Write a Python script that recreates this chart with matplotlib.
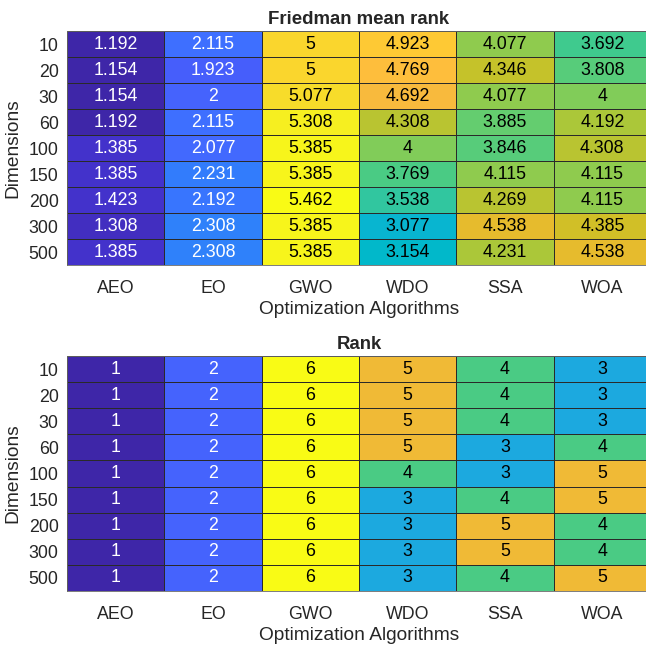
import numpy as np
import matplotlib
matplotlib.use("Agg")
import matplotlib.pyplot as plt
from matplotlib.colors import ListedColormap

plt.rcParams['font.family'] = ['Liberation Sans', 'DejaVu Sans']

algorithms = ["AEO", "EO", "GWO", "WDO", "SSA", "WOA"]
dimensions = ["10", "20", "30", "60", "100", "150", "200", "300", "500"]

# Friedman mean rank per dimension (rows) and algorithm (columns)
mean_rank = np.array([
    [1.192, 2.115, 5.000, 4.923, 4.077, 3.692],
    [1.154, 1.923, 5.000, 4.769, 4.346, 3.808],
    [1.154, 2.000, 5.077, 4.692, 4.077, 4.000],
    [1.192, 2.115, 5.308, 4.308, 3.885, 4.192],
    [1.385, 2.077, 5.385, 4.000, 3.846, 4.308],
    [1.385, 2.231, 5.385, 3.769, 4.115, 4.115],
    [1.423, 2.192, 5.462, 3.538, 4.269, 4.115],
    [1.308, 2.308, 5.385, 3.077, 4.538, 4.385],
    [1.385, 2.308, 5.385, 3.154, 4.231, 4.538],
])

# Final rank per dimension
final_rank = np.array([
    [1, 2, 6, 5, 4, 3],
    [1, 2, 6, 5, 4, 3],
    [1, 2, 6, 5, 4, 3],
    [1, 2, 6, 5, 3, 4],
    [1, 2, 6, 4, 3, 5],
    [1, 2, 6, 3, 4, 5],
    [1, 2, 6, 3, 5, 4],
    [1, 2, 6, 3, 5, 4],
    [1, 2, 6, 3, 4, 5],
])

# parula colormap, 64 entries
parula_data = [
    [0.2422, 0.1504, 0.6603], [0.2504, 0.1650, 0.7076], [0.2578, 0.1818, 0.7511],
    [0.2647, 0.1978, 0.7952], [0.2706, 0.2147, 0.8364], [0.2751, 0.2342, 0.8710],
    [0.2783, 0.2559, 0.8991], [0.2803, 0.2782, 0.9221], [0.2813, 0.3006, 0.9414],
    [0.2810, 0.3228, 0.9579], [0.2795, 0.3447, 0.9717], [0.2760, 0.3667, 0.9829],
    [0.2699, 0.3892, 0.9906], [0.2602, 0.4123, 0.9952], [0.2440, 0.4358, 0.9988],
    [0.2206, 0.4603, 0.9973], [0.1963, 0.4847, 0.9892], [0.1834, 0.5074, 0.9798],
    [0.1786, 0.5289, 0.9682], [0.1764, 0.5499, 0.9520], [0.1687, 0.5703, 0.9359],
    [0.1540, 0.5902, 0.9218], [0.1460, 0.6091, 0.9079], [0.1380, 0.6276, 0.8973],
    [0.1248, 0.6459, 0.8883], [0.1113, 0.6635, 0.8763], [0.0952, 0.6798, 0.8598],
    [0.0689, 0.6948, 0.8394], [0.0297, 0.7082, 0.8163], [0.0036, 0.7203, 0.7917],
    [0.0067, 0.7312, 0.7660], [0.0433, 0.7411, 0.7394], [0.0964, 0.7500, 0.7120],
    [0.1408, 0.7584, 0.6842], [0.1717, 0.7670, 0.6554], [0.1938, 0.7758, 0.6251],
    [0.2161, 0.7843, 0.5923], [0.2470, 0.7918, 0.5567], [0.2906, 0.7973, 0.5188],
    [0.3406, 0.8008, 0.4789], [0.3909, 0.8029, 0.4354], [0.4456, 0.8024, 0.3909],
    [0.5044, 0.7993, 0.3480], [0.5616, 0.7942, 0.3045], [0.6174, 0.7876, 0.2612],
    [0.6720, 0.7793, 0.2227], [0.7242, 0.7698, 0.1910], [0.7738, 0.7598, 0.1646],
    [0.8203, 0.7498, 0.1535], [0.8634, 0.7406, 0.1596], [0.9035, 0.7330, 0.1774],
    [0.9393, 0.7288, 0.2100], [0.9728, 0.7298, 0.2394], [0.9956, 0.7434, 0.2371],
    [0.9970, 0.7659, 0.2199], [0.9952, 0.7893, 0.2028], [0.9892, 0.8136, 0.1885],
    [0.9786, 0.8386, 0.1766], [0.9676, 0.8639, 0.1643], [0.9610, 0.8890, 0.1537],
    [0.9597, 0.9135, 0.1423], [0.9628, 0.9373, 0.1265], [0.9691, 0.9606, 0.1064],
    [0.9769, 0.9839, 0.0805],
]
parula = ListedColormap(parula_data, name="parula")

TEXT = "#262626"
W = H = 646
fig = plt.figure(figsize=(W / 100, H / 100), dpi=100)


def heatmap(rect, data, title, fmt):
    ax = fig.add_axes(rect)
    vmin, vmax = data.min(), data.max()
    nrows, ncols = data.shape
    ax.pcolormesh(np.arange(ncols + 1), np.arange(nrows + 1), data,
                  cmap=parula, vmin=vmin, vmax=vmax,
                  edgecolors="#2a2a2a", linewidth=0.5)
    ax.set_xlim(0, ncols)
    ax.set_ylim(nrows, 0)
    ax.set_xticks(np.arange(ncols) + 0.5)
    ax.set_xticklabels(algorithms)
    ax.set_yticks(np.arange(nrows) + 0.5)
    ax.set_yticklabels(dimensions)
    ax.tick_params(length=0, labelsize=12.8, colors=TEXT, pad=6)
    ax.tick_params(axis="x", pad=11)
    for s in ax.spines.values():
        s.set_color("#666666")
        s.set_linewidth(0.6)
    ax.set_title(title, fontsize=13.4, fontweight="bold", color=TEXT, pad=5)
    ax.set_xlabel("Optimization Algorithms", fontsize=13.8, color=TEXT, labelpad=3)
    ax.set_ylabel("Dimensions", fontsize=13.8, color=TEXT, labelpad=5)
    for i in range(nrows):
        for j in range(ncols):
            v = data[i, j]
            r, g, b, _ = parula((v - vmin) / (vmax - vmin))
            lum = 0.299 * r + 0.587 * g + 0.114 * b
            ax.text(j + 0.5, i + 0.5, fmt(v), ha="center", va="center",
                    fontsize=12.8, color="white" if lum < 0.5 else "black")
    return ax


def fmt_mean(v):
    return f"{v:.3f}".rstrip("0").rstrip(".")


heatmap([67 / W, 1 - 265 / H, 584 / W, 234 / H], mean_rank,
        "Friedman mean rank", fmt_mean)
heatmap([67 / W, 1 - 591 / H, 584 / W, 235 / H], final_rank,
        "Rank", lambda v: f"{int(v)}")

fig.savefig("out.png", dpi=100, facecolor="white")
